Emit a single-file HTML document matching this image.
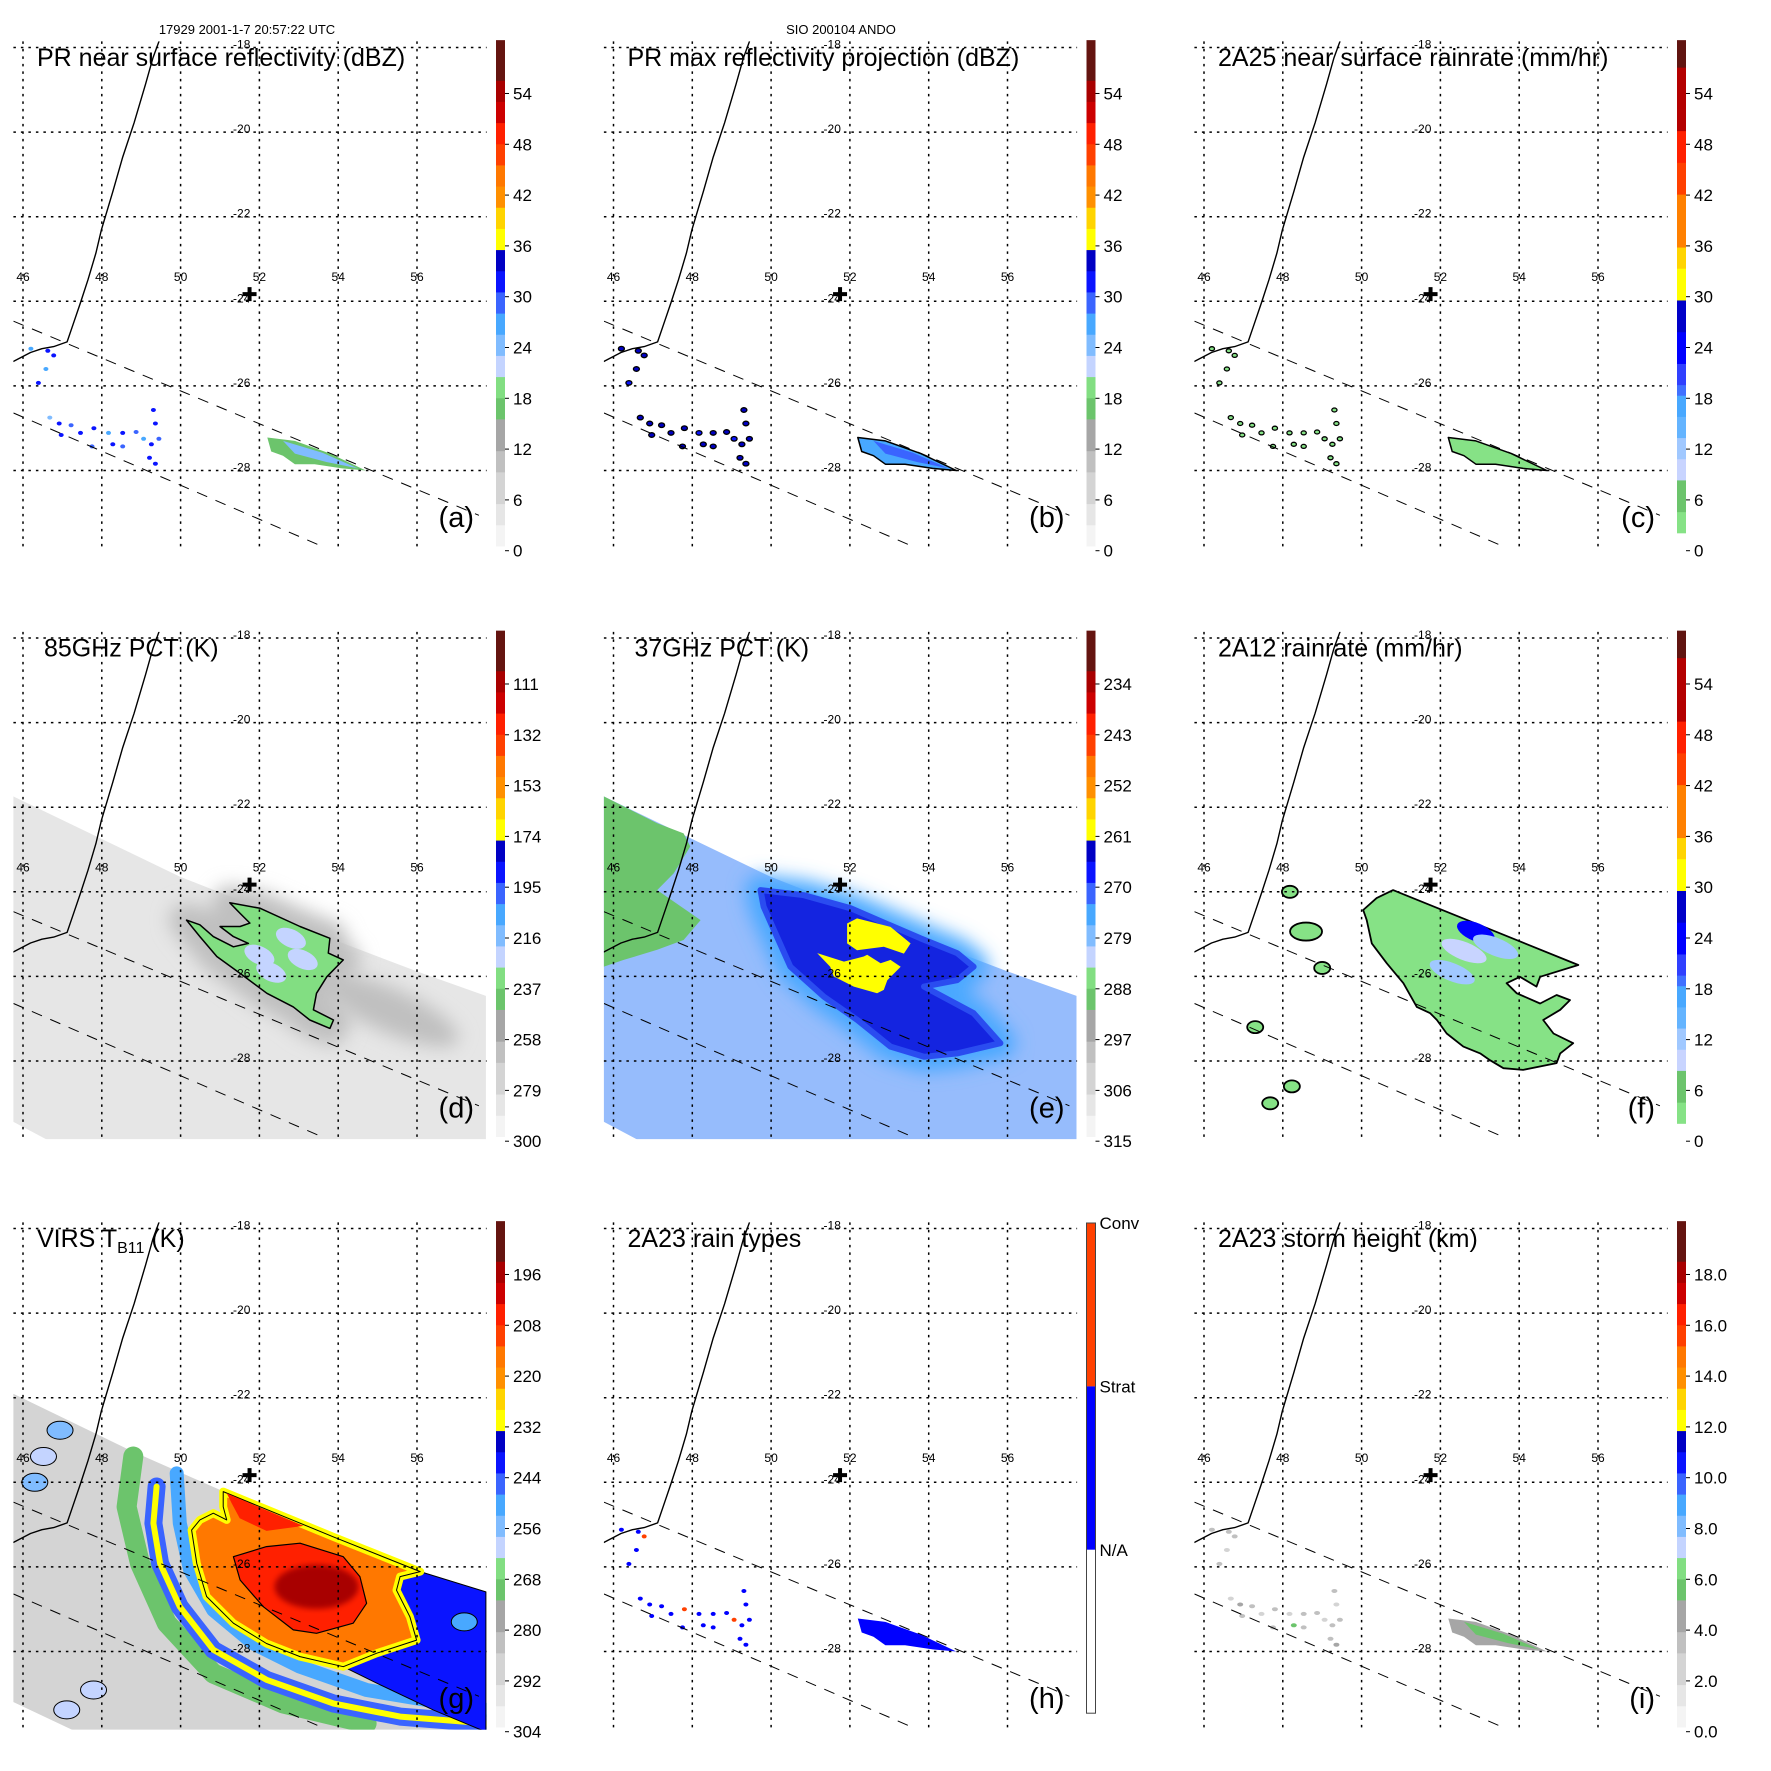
<!DOCTYPE html>
<html><head><meta charset="utf-8"><title>TRMM storm panels</title>
<style>html,body{margin:0;padding:0;background:#fff}svg{display:block;font-family:"Liberation Sans",Arial,sans-serif}</style>
</head><body>
<svg id="fig" xmlns="http://www.w3.org/2000/svg" width="1771" height="1771" viewBox="0 0 1771 1771">
<rect x="0" y="0" width="1771" height="1771" fill="#fff"/>
<defs><filter id="blur8" x="-50%" y="-50%" width="200%" height="200%"><feGaussianBlur stdDeviation="9"/></filter>
<filter id="blur3"><feGaussianBlur stdDeviation="3"/></filter></defs>
<text x="247" y="34" font-size="13" text-anchor="middle">17929 2001-1-7 20:57:22 UTC</text>
<text x="841" y="34" font-size="13" text-anchor="middle">SIO 200104 ANDO</text>
</svg>
<script>
// ---------- data ----------
const lonTicks=[46,48,50,52,54,56];
const latTicks=[-18,-20,-22,-24,-26,-28];
const cbTickPos=[54,48,42,36,30,24,18,12,6,0];
const cbLabelsDbz=['54','48','42','36','30','24','18','12','6','0'];
const cbLabels85=['111','132','153','174','195','216','237','258','279','300'];
const cbLabels37=['234','243','252','261','270','279','288','297','306','315'];
const cbLabelsVirs=['196','208','220','232','244','256','268','280','292','304'];
const cbLabelsHgt=['18.0','16.0','14.0','12.0','10.0','8.0','6.0','4.0','2.0','0.0'];
const coastLine=[[49.45,-17.86],[49.30,-18.24],[49.11,-18.87],[48.82,-19.78],[48.53,-20.59],[48.28,-21.41],[47.99,-22.31],[47.85,-22.86],[47.65,-23.49],[47.46,-24.03],[47.26,-24.58],[47.12,-24.96],[46.78,-25.07],[46.48,-25.12],[46.19,-25.21],[45.76,-25.42]];
const swathEdge1=[[45.76,-24.47],[57.57,-29.06]];
const swathEdge2=[[45.76,-26.64],[53.68,-29.83]];
const stormCenter=[51.75,-23.83];
const prDots=[[46.20,-25.12],[46.63,-25.17],[46.78,-25.28],[46.58,-25.60],[46.39,-25.93],[46.68,-26.75],[46.92,-26.89],[47.22,-26.93],[46.97,-27.16],[47.46,-27.11],[47.80,-27.00],[47.75,-27.43],[48.17,-27.11],[48.28,-27.38],[48.53,-27.11],[48.87,-27.09],[49.06,-27.25],[49.31,-26.57],[49.36,-26.89],[49.45,-27.25],[49.26,-27.38],[49.21,-27.70],[49.36,-27.84],[48.53,-27.43]];
const aDbz=[27,31,30,26,30,24,31,29,32,31,30,28,26,31,30,29,27,31,30,28,31,30,32,29];
const bDbz=[33,33,34,33,32,33,34,33,34,33,33,33,32,34,33,33,32,34,33,33,34,33,34,33];
const cRain=[2,3,2,2,3,2,3,2,4,3,3,2,2,3,3,2,2,3,3,2,3,3,4,2];
const hType=[1,1,2,1,1,1,1,1,1,1,2,1,1,1,1,1,2,1,1,1,1,1,1,1];
const iHgt=[3,3,3,2,3,2,4,3,3,2,3,3,2,5,3,3,2,3,2,3,3,3,4,3];
const prStrip=[[52.2,-27.22],[52.9,-27.3],[53.8,-27.6],[54.7,-28.0],[54.1,-27.95],[53.4,-27.85],[52.9,-27.85],[52.6,-27.65],[52.3,-27.55]];
const prStripCore=[[52.6,-27.3],[53.6,-27.58],[54.5,-27.95],[53.7,-27.8],[52.9,-27.6]];
const stripVal={a:17,b:25,c:3,i:4};
const stripCoreVal={a:23,b:28,c:2,i:5};
const tmiSwath=[[45.74,-21.74],[49.98,-23.64],[52.02,-24.39],[53.79,-25.10],[55.99,-25.88],[57.75,-26.46],[57.75,-29.9],[46.69,-29.9],[45.74,-29.43]];
const virsSwath=[[45.74,-21.90],[48.80,-23.28],[51.0,-24.18],[53.88,-25.29],[56.08,-26.11],[57.75,-26.59],[57.75,-29.9],[47.36,-29.9],[45.74,-29.19]];
const d85Rain=[[50.15,-24.67],[50.49,-25.06],[50.92,-25.53],[51.51,-25.93],[52.19,-26.40],[52.86,-26.72],[53.28,-27.03],[53.79,-27.23],[53.88,-27.03],[53.37,-26.79],[53.45,-26.40],[53.71,-26.01],[54.13,-25.61],[53.75,-25.45],[53.79,-25.10],[53.03,-24.82],[52.02,-24.39],[51.25,-24.26],[51.51,-24.51],[51.76,-24.74],[51.51,-24.82],[51.00,-24.82],[51.34,-25.06],[51.72,-25.22],[51.34,-25.30],[50.83,-25.06],[50.49,-24.78]];
const d85Cells=[[52.3,-25.9],[52.8,-25.1],[52.0,-25.5],[53.1,-25.6]];
const d85CellK=[224,222,226,225];
const e37Land=[[45.75,-21.74],[47.11,-22.38],[47.78,-22.62],[47.95,-22.93],[47.53,-23.56],[47.11,-23.96],[48.21,-24.67],[47.78,-25.14],[47.11,-25.37],[46.26,-25.61],[45.75,-25.77]];
const e37Cold=[[49.73,-23.96],[50.83,-24.08],[52.02,-24.39],[53.79,-25.10],[54.72,-25.45],[55.14,-25.77],[54.72,-26.09],[53.88,-26.24],[55.14,-26.87],[55.82,-27.58],[54.72,-27.82],[53.88,-27.90],[53.03,-27.66],[52.19,-27.03],[51.34,-26.48],[50.49,-25.77],[50.07,-24.90],[49.81,-24.35]];
const e37Yellow1=[[51.93,-24.75],[52.18,-24.63],[53.03,-24.83],[53.54,-25.22],[53.37,-25.46],[52.86,-25.30],[52.18,-25.38],[51.93,-25.22]];
const e37Yellow2=[[51.17,-25.45],[51.85,-25.65],[52.35,-25.53],[52.44,-25.49],[52.78,-25.69],[53.03,-25.61],[53.29,-25.77],[52.95,-26.09],[52.86,-26.32],[52.69,-26.40],[52.10,-26.24],[51.59,-26.00],[51.50,-25.77]];
const f12Rain=[[50.04,-24.43],[50.38,-24.15],[50.80,-23.96],[55.50,-25.73],[54.53,-26.01],[54.44,-26.24],[54.02,-26.01],[53.68,-26.16],[53.94,-26.40],[54.53,-26.64],[54.95,-26.44],[55.29,-26.56],[55.04,-26.79],[54.61,-27.03],[54.87,-27.35],[55.37,-27.58],[55.04,-27.82],[54.95,-28.05],[54.10,-28.21],[53.60,-28.17],[53.26,-27.98],[53.01,-27.82],[52.58,-27.66],[52.16,-27.35],[51.91,-27.03],[51.74,-26.87],[51.40,-26.72],[51.06,-26.16],[50.64,-25.69],[50.26,-25.22],[50.13,-24.67]];
const f12Cells=[[52.9,-24.95],[52.3,-25.9],[52.6,-25.4],[53.4,-25.3]];
const f12CellRain=[24,12,10,11];
const f12Islands=[[48.59,-24.94],[48.18,-24.0],[49.0,-25.8],[47.68,-29.0],[48.23,-28.6],[47.3,-27.2]];
const f12IslandRain=[2,2,2,3,2,2];
const gWarmCore=[[51.08,-24.22],[53.88,-25.29],[56.08,-26.11],[55.57,-26.23],[55.48,-26.55],[55.82,-27.18],[55.99,-27.73],[54.98,-28.04],[54.13,-28.36],[53.03,-28.12],[52.18,-27.81],[51.34,-27.33],[50.66,-26.70],[50.41,-25.92],[50.28,-25.13],[50.49,-24.89],[50.83,-24.73],[51.17,-24.89],[51.08,-24.58]];
const gRightBlue=[[56.08,-26.11],[57.75,-26.59],[57.75,-29.9],[56.41,-29.38],[54.98,-28.75],[54.13,-28.36],[54.98,-28.04],[55.99,-27.73],[55.82,-27.18],[55.48,-26.55],[55.57,-26.23]];
const gRedCore=[[52.18,-25.52],[53.03,-25.44],[54.13,-25.76],[54.55,-26.23],[54.72,-26.86],[54.38,-27.33],[53.45,-27.57],[52.86,-27.49],[52.10,-26.94],[51.51,-26.31],[51.34,-25.76]];
const gTopRed=[[51.17,-24.26],[53.12,-25.03],[52.18,-25.15],[51.5,-24.85],[51.3,-24.5]];
const gArcA=[[49.39,-24.10],[49.31,-24.97],[49.48,-25.92],[49.98,-26.94],[50.83,-27.96],[52.18,-28.67],[53.88,-29.23],[55.57,-29.54],[57.75,-29.70]];
const gArcB=[[49.90,-23.79],[49.98,-24.97],[50.24,-26.07],[50.83,-27.02],[51.85,-27.81],[53.03,-28.36],[54.72,-28.91],[57.75,-29.38]];
const gArcC=[[48.80,-23.39],[48.63,-24.58],[48.97,-25.92],[49.65,-27.33],[50.83,-28.52],[52.61,-29.23],[54.72,-29.70]];
const gBlobs=[[46.52,-23.39],[46.94,-22.77],[47.79,-28.91],[47.11,-29.38],[46.3,-24.0],[57.2,-27.3]];
const gBlobK=[262,258,260,264,258,252];
const gCenter=[53.45,-26.47];
const gK={swath:290,arcC:270,arcA:248,arcAcore:230,arcB:250,warm:216,warmEdge:230,red:206,core:197,top:206,right:243};

// ---------- helpers ----------
const NS='http://www.w3.org/2000/svg';
const svg=document.getElementById('fig');
const S=590.5;
function mk(tag,parent,attrs){const e=document.createElementNS(NS,tag);for(const k in attrs)e.setAttribute(k,attrs[k]);parent.appendChild(e);return e;}
function P(p,lon,lat){return [p.ox+23+(lon-46)*39.4,p.oy+47.5+(-18-lat)*42.3];}
function ptsStr(p,arr){return arr.map(q=>P(p,q[0],q[1]).map(v=>v.toFixed(1)).join(',')).join(' ');}
const dbzThr=[[3,'#f4f4f4'],[6,'#e6e6e6'],[9,'#d4d4d4'],[12,'#c0c0c0'],[15,'#a6a6a6'],[17.5,'#6cc46c'],[20,'#82de82'],[22.5,'#c4d4ff'],[25,'#80bcff'],[27.5,'#48a8ff'],[30,'#3a64ff'],[32.5,'#0a14ff'],[35,'#0000c4'],[37.5,'#ffff00'],[40,'#ffd400'],[42.5,'#ff9000'],[45,'#ff7800'],[47.5,'#ff4000'],[50,'#ff2000'],[52.5,'#cc0000'],[55,'#a80000'],[99,'#641410']];
const rainThr=[[4.5,'#86e286'],[8.3,'#6cc46c'],[11,'#c8d4ff'],[13,'#a0c8ff'],[15.5,'#64b4ff'],[18,'#48a8ff'],[20,'#4070ff'],[22,'#3040ff'],[25.5,'#0000ff'],[29.1,'#0000c8'],[33,'#ffff00'],[36.4,'#ffd400'],[42.5,'#ff8000'],[46,'#ff4000'],[49.8,'#ff2000'],[57,'#b40000'],[99,'#601410']];
function cmap(thr,v){for(const t of thr){if(v<t[0])return t[1];}return thr[thr.length-1][1];}
const eq={dbz:v=>v,rain:v=>v,k85:k=>(300-k)*6/21,k37:k=>(315-k)*6/9,virs:k=>(304-k)*6/12,hgt:h=>h*3};

const panels=[
 {key:'a',col:0,row:0,title:'PR near surface reflectivity (dBZ)',tx:37,labels:cbLabelsDbz,bar:'dbz'},
 {key:'b',col:1,row:0,title:'PR max reflectivity projection (dBZ)',tx:37,labels:cbLabelsDbz,bar:'dbz'},
 {key:'c',col:2,row:0,title:'2A25 near surface rainrate (mm/hr)',tx:37,labels:cbLabelsDbz,bar:'rain'},
 {key:'d',col:0,row:1,title:'85GHz PCT (K)',tx:44,labels:cbLabels85,bar:'dbz'},
 {key:'e',col:1,row:1,title:'37GHz PCT (K)',tx:44,labels:cbLabels37,bar:'dbz'},
 {key:'f',col:2,row:1,title:'2A12 rainrate (mm/hr)',tx:37,labels:cbLabelsDbz,bar:'rain'},
 {key:'g',col:0,row:2,title:'VIRS',tx:37,labels:cbLabelsVirs,bar:'dbz'},
 {key:'h',col:1,row:2,title:'2A23 rain types',tx:37,labels:null,bar:'type'},
 {key:'i',col:2,row:2,title:'2A23 storm height (km)',tx:37,labels:cbLabelsHgt,bar:'dbz'}
];

function poly(p,g,arr,fill,stroke,sw){const e=mk('polygon',g,{points:ptsStr(p,arr),fill:fill,stroke:stroke||'none','stroke-width':sw||1,'stroke-linejoin':'round'});return e;}
function pline(p,g,arr,stroke,sw){const e=mk('polyline',g,{points:ptsStr(p,arr),fill:'none',stroke:stroke,'stroke-width':sw,'stroke-linejoin':'round','stroke-linecap':'round'});return e;}

function drawData(p,g){
 const k=p.key;
 if(k==='a'||k==='b'||k==='c'||k==='h'||k==='i'){
  let sf,sc,ss='none';
  if(k==='a'){sf=cmap(dbzThr,stripVal.a);sc=cmap(dbzThr,stripCoreVal.a);}
  if(k==='b'){sf=cmap(dbzThr,stripVal.b);sc=cmap(dbzThr,stripCoreVal.b);ss='#000';}
  if(k==='c'){sf=cmap(rainThr,stripVal.c);sc=cmap(rainThr,stripCoreVal.c);ss='#000';}
  if(k==='h'){sf='#0000ff';sc='#0000ff';}
  if(k==='i'){sf=cmap(dbzThr,eq.hgt(stripVal.i));sc=cmap(dbzThr,eq.hgt(stripCoreVal.i));}
  const st=poly(p,g,prStrip,sf,ss,1.5);
  
  
  const sc2=poly(p,g,prStripCore,sc);
  
  
  prDots.forEach((q,i)=>{
   const c=P(p,q[0],q[1]);let fill,stroke='none',rx=2.5,ry=2;
   if(k==='a'){fill=cmap(dbzThr,aDbz[i]);}
   if(k==='b'){fill=cmap(dbzThr,bDbz[i]);stroke='#000';rx=3;ry=2.3;}
   if(k==='c'){fill=cmap(rainThr,cRain[i]);stroke='#000';rx=2.6;ry=2;}
   if(k==='h'){fill=hType[i]===2?'#ff4000':'#0000ff';}
   if(k==='i'){fill=cmap(dbzThr,eq.hgt(iHgt[i]));rx=3;}
   const d=mk('ellipse',g,{cx:c[0].toFixed(1),cy:c[1].toFixed(1),rx:rx,ry:ry,fill:fill,stroke:stroke,'stroke-width':1.3});
   
   
  });
 }
 if(k==='d'){
  const sw=poly(p,g,tmiSwath,cmap(dbzThr,eq.k85(285)));
  
  
  const halo=poly(p,g,d85Rain,cmap(dbzThr,eq.k85(258)),cmap(dbzThr,eq.k85(262)),34);
  halo.setAttribute('filter','url(#blur8)');
  
  
  const c=P(p,55.3,-26.8);
  const tail=mk('ellipse',g,{cx:c[0],cy:c[1],rx:75,ry:22,fill:cmap(dbzThr,eq.k85(262)),transform:`rotate(24 ${c[0]} ${c[1]})`,filter:'url(#blur8)'});
  
  
  const r=poly(p,g,d85Rain,cmap(dbzThr,eq.k85(232)),'#000',1.5);
  
  
  d85Cells.forEach((q,i)=>{const cc=P(p,q[0],q[1]);
   const e=mk('ellipse',g,{cx:cc[0],cy:cc[1],rx:16,ry:9,fill:cmap(dbzThr,eq.k85(d85CellK[i])),transform:`rotate(25 ${cc[0]} ${cc[1]})`});
   
   });
 }
 if(k==='e'){
  const sw=poly(p,g,tmiSwath,'#96bcfc');
  
  
  const l=poly(p,g,e37Land,cmap(dbzThr,eq.k37(290)));
  
  
  const h=poly(p,g,e37Cold,cmap(dbzThr,eq.k37(274)),cmap(dbzThr,eq.k37(274)),30);
  h.setAttribute('filter','url(#blur8)');
  
  
  const c=poly(p,g,e37Cold,'#1424e0','#2a4cf0',6);
  
  
  [e37Yellow1,e37Yellow2].forEach(a=>{const y=poly(p,g,a,cmap(dbzThr,eq.k37(259)));
   
   });
 }
 if(k==='f'){
  const r=poly(p,g,f12Rain,cmap(rainThr,2),'#000',1.8);
  
  
  f12Cells.forEach((q,i)=>{const cc=P(p,q[0],q[1]);
   const e=mk('ellipse',g,{cx:cc[0],cy:cc[1],rx:i===0?20:24,ry:9,fill:cmap(rainThr,f12CellRain[i]),transform:`rotate(22 ${cc[0]} ${cc[1]})`});
   
   });
  f12Islands.forEach((q,i)=>{const cc=P(p,q[0],q[1]);
   const e=mk('ellipse',g,{cx:cc[0],cy:cc[1],rx:i===0?16:8,ry:i===0?9:6,fill:cmap(rainThr,f12IslandRain[i]),stroke:'#000','stroke-width':1.8});
   
   });
 }
 if(k==='g'){
  const V=x=>cmap(dbzThr,eq.virs(x));
  const sw=poly(p,g,virsSwath,V(gK.swath));
  
  
  const cg=pline(p,g,gArcC,V(gK.arcC),20);
  
  
  const aa=pline(p,g,gArcA,V(gK.arcA),18);
  
  
  const ab=pline(p,g,gArcA,V(gK.arcAcore),6);
  
  
  const bb=pline(p,g,gArcB,V(gK.arcB),14);
  
  
  const bl=poly(p,g,gRightBlue,V(gK.right),'#000',1);
  
  
  const w=poly(p,g,gWarmCore,V(gK.warm),V(gK.warmEdge),8);
  
  
  const w2=poly(p,g,gWarmCore,'none','#000',1);
  
  
  const t=poly(p,g,gTopRed,V(gK.top));
  
  
  const r=poly(p,g,gRedCore,V(gK.red),'#000',1.2);
  
  
  const cc=P(p,gCenter[0],gCenter[1]);
  const core=mk('ellipse',g,{cx:cc[0],cy:cc[1],rx:42,ry:22,fill:V(gK.core),filter:'url(#blur3)'});
  
  
  gBlobs.forEach((q,i)=>{const c=P(p,q[0],q[1]);
   const e=mk('ellipse',g,{cx:c[0],cy:c[1],rx:13,ry:9,fill:V(gBlobK[i]),stroke:'#000','stroke-width':1});
   
   });
 }
}

function drawColorbar(p,g){
 const x=p.ox+496,w=9,yv=v=>p.oy+550.7-8.467*v;
 if(p.bar==='type'){
  const cols=['#ff4000','#0000ff','#ffffff'];
  const y0=p.oy+42,h=163.4;
  cols.forEach((c,i)=>{const r=mk('rect',g,{x:x,y:y0+i*h,width:w,height:h,fill:c});
   
   });
  const fr=mk('rect',g,{x:x,y:y0,width:w,height:3*h,fill:'none',stroke:'#444','stroke-width':1});
  
  
  ['Conv','Strat','N/A'].forEach((s,i)=>{const t=mk('text',g,{x:x+13,y:y0+i*h+6,'font-size':17});
   t.textContent=s;
   
   });
  return;
 }
 const thr=p.bar==='rain'?rainThr:dbzThr;
 const vmin=p.bar==='rain'?2.1:0.55,vmax=60.3,step=1.25;
 for(let v=vmin;v<vmax-0.01;v+=step){
  const v2=Math.min(v+step,vmax);
  const r=mk('rect',g,{x:x,y:yv(v2).toFixed(2),width:w,height:(yv(v)-yv(v2)+0.4).toFixed(2),fill:cmap(thr,(v+v2)/2)});
  
  
 }
 cbTickPos.forEach((v,i)=>{const y=yv(v);
  const tk=mk('line',g,{x1:x+w,x2:x+w+4,y1:y,y2:y,stroke:'#000','stroke-width':1});
  
  
  const t=mk('text',g,{x:x+17,y:y+6,'font-size':17});
  t.textContent=p.labels[i];
  
  });
}

panels.forEach(p=>{
 p.ox=p.col*S;p.oy=p.row*S;
 const g=mk('g',svg,{});
 
 
 const cp=mk('clipPath',g,{id:'clip-'+p.key});
 mk('rect',cp,{x:p.ox+13.4,y:p.oy+41.4,width:473.2,height:507.2});
 const dg=mk('g',g,{'clip-path':'url(#clip-'+p.key+')'});
 
 
 drawData(p,dg);
 const ov=mk('g',g,{'clip-path':'url(#clip-'+p.key+')'});
 const c1=pline(p,ov,coastLine,'#000',1.4);
 
 
 [swathEdge1,swathEdge2].forEach(s=>{const l=pline(p,ov,s,'#000',1);l.setAttribute('stroke-dasharray','11 9');l.setAttribute('stroke-linecap','butt');
  
  });
 lonTicks.forEach(lon=>{const a=P(p,lon,-18);
  const l=mk('line',g,{x1:a[0],x2:a[0],y1:p.oy+41.4,y2:p.oy+548.6,stroke:'#000','stroke-width':1.5,'stroke-dasharray':'2.5 5'});
  
  
  const t=mk('text',g,{x:a[0],y:p.oy+281,'font-size':12,'text-anchor':'middle'});
  t.textContent=String(lon);
  
  });
 latTicks.forEach(lat=>{const a=P(p,52,lat);
  const l=mk('line',g,{x1:p.ox+13.4,x2:p.ox+486.6,y1:a[1],y2:a[1],stroke:'#000','stroke-width':1.5,'stroke-dasharray':'2.5 5'});
  
  
  const t=mk('text',g,{x:a[0]-9,y:a[1]+1,'font-size':12,'text-anchor':'end'});
  t.textContent=String(lat);
  
  });
 const cc=P(p,stormCenter[0],stormCenter[1]);
 const cr=mk('path',g,{d:`M${cc[0]-7},${cc[1]-2}h5v-5h4v5h5v4h-5v5h-4v-5h-5z`,fill:'#000'});
 
 
 const tt=mk('text',g,{x:p.ox+p.tx,y:p.oy+66,'font-size':25});
 if(p.key==='g'){tt.innerHTML='VIRS T<tspan font-size="16" dy="6">B11</tspan><tspan dy="-6"> (K)</tspan>';}
 else tt.textContent=p.title;
 
 
 const tg=mk('text',g,{x:p.ox+474,y:p.oy+527,'font-size':29,'text-anchor':'end'});
 tg.textContent='('+p.key+')';
 
 
 const cbg=mk('g',g,{});
 
 
 drawColorbar(p,cbg);
});
</script>
</body></html>
